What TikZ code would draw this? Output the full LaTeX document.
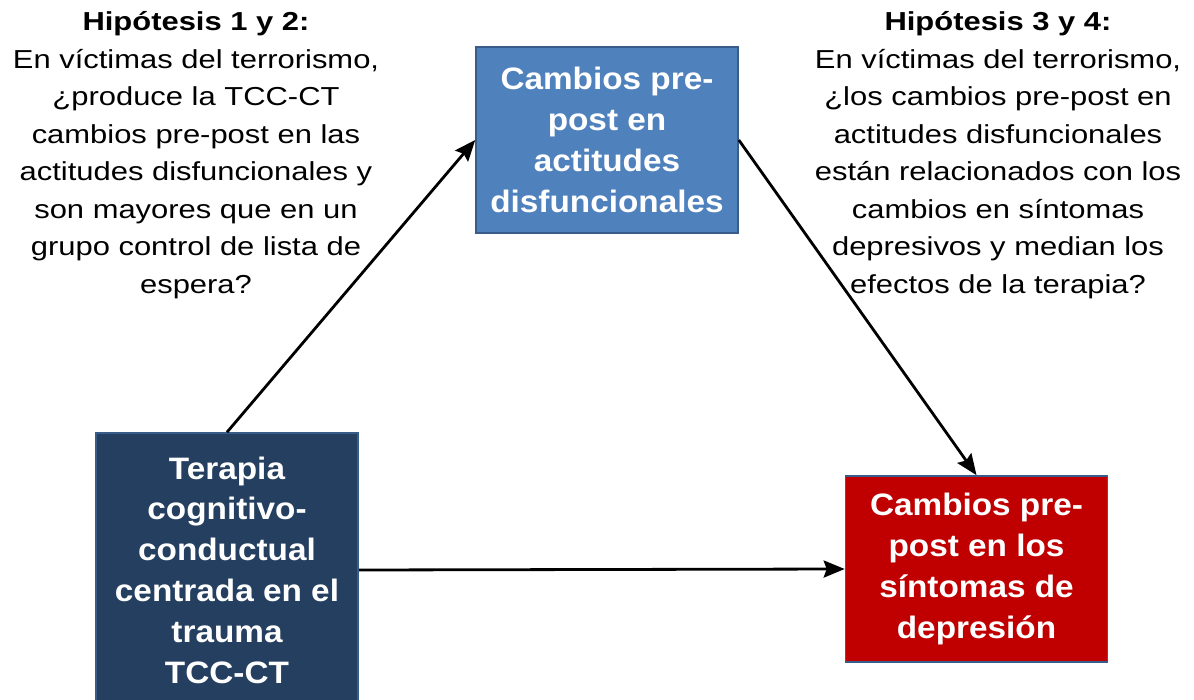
\documentclass[tikz,border=0pt]{standalone}
\usepackage{fontspec}
\setmainfont{Liberation Sans}
\newfontfamily\hypfont[FakeStretch=1.19]{Liberation Sans}
\newfontfamily\boxfont[FakeStretch=1.075]{Liberation Sans}
\usetikzlibrary{arrows.meta,positioning}

\definecolor{attblue}{HTML}{4F81BD}
\definecolor{navy}{HTML}{243F60}
\definecolor{deepred}{HTML}{C00000}
\definecolor{edgeblue}{HTML}{385D8A}

\begin{document}
\begin{tikzpicture}[
  x=0.5pt, y=-0.5pt,
  box/.style={rectangle, draw=edgeblue, line width=0.8pt, align=center, text=white,
    font=\boxfont\fontsize{15.5}{20.4}\selectfont\bfseries, minimum width=131pt, inner sep=0pt},
  hyp/.style={align=center, font=\hypfont\fontsize{13}{18.75}\selectfont},
  yes/.style={->, >={Stealth[length=10.5pt,width=8.5pt,inset=1.5pt]}, line width=1.4pt},
]
\useasboundingbox (0,0) rectangle (1194,700);

\node[box, fill=attblue, minimum height=93pt] (actitudes) at (607,140)
  {Cambios pre-\\post en\\actitudes\\disfuncionales};
\node[box, fill=navy, minimum height=137pt] (terapia) at (227,570)
  {Terapia\\cognitivo-\\conductual\\centrada en el\\trauma\\TCC-CT};
\node[box, fill=deepred, minimum height=93pt] (sintomas) at (976.5,569)
  {Cambios pre-\\post en los\\síntomas de\\depresión};

\node[hyp] (hip12) at (196,155)
  {\textbf{Hipótesis 1 y 2:}\\En víctimas del terrorismo,\\¿produce la TCC-CT\\cambios pre-post en las\\actitudes disfuncionales y\\son mayores que en un\\grupo control de lista de\\espera?};
\node[hyp] (hip34) at (998,155)
  {\textbf{Hipótesis 3 y 4:}\\En víctimas del terrorismo,\\¿los cambios pre-post en\\actitudes disfuncionales\\están relacionados con los\\cambios en síntomas\\depresivos y median los\\efectos de la terapia?};

\draw[yes] (terapia.north) -- (actitudes.west);
\draw[yes] (actitudes.east) -- (sintomas.north);
\draw[yes] (terapia.east) -- (sintomas.west);
\end{tikzpicture}
\end{document}
